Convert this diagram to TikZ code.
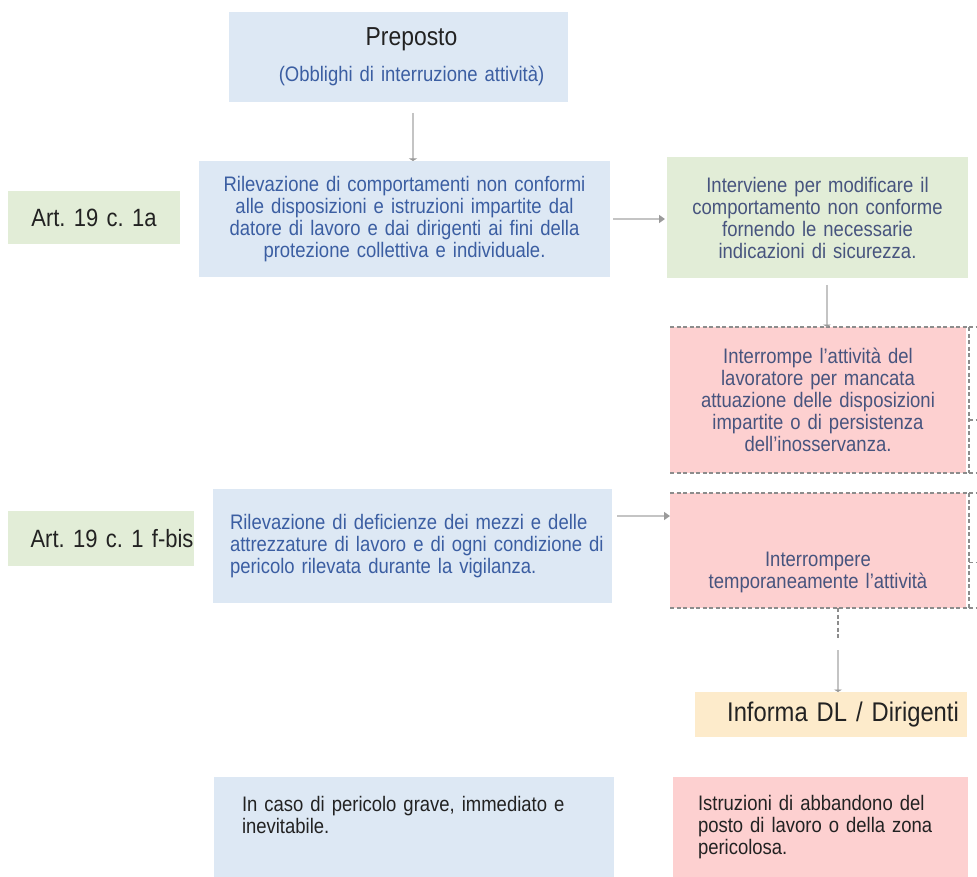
\documentclass[tikz,border=0pt]{standalone}
\usepackage{fontspec}
\setmainfont[FakeStretch=0.88]{Liberation Sans}
\usetikzlibrary{arrows.meta}
\definecolor{bluefill}{HTML}{DDE8F4}
\definecolor{greenfill}{HTML}{E2EDD7}
\definecolor{redfill}{HTML}{FDD0D0}
\definecolor{yellowfill}{HTML}{FDEBCB}
\definecolor{bluetext}{HTML}{3B5EA2}
\definecolor{slatetext}{HTML}{47547E}
\definecolor{darktext}{HTML}{222222}
\definecolor{connc}{HTML}{C4C4C4}
\definecolor{tipc}{HTML}{9A9A9A}
\definecolor{dashc}{HTML}{8C8C8C}
\newcommand\mainsz{\fontsize{21}{22}\selectfont}
\begin{document}
\frenchspacing
\begin{tikzpicture}[x=1pt,y=-1pt,
  every node/.style={inner sep=0pt, outer sep=0pt},
  boxbase/.style={anchor=north west, font=\mainsz, align=center},
  bluebox/.style={boxbase, fill=bluefill, text=bluetext},
  greenbox/.style={boxbase, fill=greenfill, text=slatetext},
  redbox/.style={boxbase, fill=redfill, text=slatetext},
  yellowbox/.style={boxbase, fill=yellowfill, text=darktext},
  artbox/.style={boxbase, fill=greenfill, text=darktext, font=\fontsize{25}{26}\selectfont},
  conn/.style={draw=connc, line width=1.8pt, -{Triangle[width=8pt,length=6pt,color=tipc]}},
  connv/.style={draw=connc, line width=1.8pt, -{Triangle[width=8pt,length=2.5pt,color=tipc]}},
  dashline/.style={draw=dashc, line width=1.2pt, dash pattern=on 4pt off 2.5pt},
]
\useasboundingbox (0,0) rectangle (977,877);

% boxes
\node[bluebox, minimum width=339, minimum height=90, text width=339] (top) at (229,12)
  {\hspace*{26pt}{\fontsize{26}{27}\selectfont\color{darktext}Preposto}\\[14pt]\hspace*{26pt}(Obblighi di interruzione attività)};

\node[bluebox, minimum width=411, minimum height=116, text width=411] (rc) at (199,161)
  {Rilevazione di comportamenti non conformi\\alle disposizioni e istruzioni impartite dal\\datore di lavoro e dai dirigenti ai fini della\\protezione collettiva e individuale.};

\node[greenbox, minimum width=301, minimum height=121, text width=301] (ic) at (667,157)
  {Interviene per modificare il\\comportamento non conforme\\fornendo le necessarie\\indicazioni di sicurezza.};

\node[redbox, minimum width=296, minimum height=146, text width=296] (ia) at (670,327)
  {Interrompe l'attività del\\lavoratore per mancata\\attuazione delle disposizioni\\impartite o di persistenza\\dell'inosservanza.};

\node[bluebox, minimum width=399, minimum height=114, text width=399, align=left] (rd) at (213,489)
  {\leftskip=17pt\rightskip=-40pt plus 1fil Rilevazione di deficienze dei mezzi e delle\\attrezzature di lavoro e di ogni condizione di\\pericolo rilevata durante la vigilanza.\par};

\node[redbox, minimum width=296, minimum height=115, text width=296] (it) at (670,493)
  {\mbox{}\\[37pt]Interrompere\\temporaneamente l'attività};

\node[yellowbox, minimum width=272, minimum height=45, text width=272, font=\fontsize{27}{28}\selectfont] (inf) at (695,692)
  {\hspace*{24pt}Informa DL / Dirigenti};

\node[artbox, minimum width=172, minimum height=53, text width=172] (arta) at (8,191)
  {Art. 19 c. 1a};

\node[artbox, minimum width=186, minimum height=55, text width=185, align=right] (artf) at (8,511)
  {Art. 19 c. 1 f-bis};

\node[bluebox, text=darktext, minimum width=400, minimum height=100, text width=400, align=left] (pg) at (214,777)
  {\leftskip=28pt\rightskip=-40pt plus 1fil In caso di pericolo grave, immediato e\\inevitabile.\par\vspace*{24pt}};

\node[redbox, text=darktext, minimum width=295, minimum height=100, text width=295, align=left] (ab) at (673,777)
  {\leftskip=25pt\rightskip=-40pt plus 1fil Istruzioni di abbandono del\\posto di lavoro o della zona\\pericolosa.\par};

% dashed group outlines
\draw[dashline] (ia.north west) -- (ia.north west -| 977,0);
\draw[dashline] (ia.south west) -- (ia.south west -| 977,0);
\draw[dashline] ([xshift=3pt]ia.north east) -- ([xshift=3pt]ia.south east);
\draw[dashline] ([xshift=3pt,yshift=-20pt]ia.east) -- ++(8,0);
\draw[dashline] (it.north west) -- (it.north west -| 977,0);
\draw[dashline] (it.south west) -- (it.south west -| 977,0);
\draw[dashline] ([xshift=3pt]it.north east) -- ([xshift=3pt]it.south east);
\draw[dashline] ([xshift=3pt,yshift=-12pt]it.east) -- ++(8,0);

% connectors
\coordinate (tx) at ([xshift=14.5pt]top.south);
\draw[connv, shorten <=11pt] (tx) -- (tx |- rc.north);

\draw[conn, shorten <=3pt, shorten >=2pt] (rc.east) -- (rc.east -| ic.west);

\coordinate (icx) at ([xshift=9.5pt]ic.south);
\draw[connv, shorten <=7pt] (icx) -- (icx |- ia.north);

\coordinate (rx) at ([yshift=30pt]rd.east);
\draw[conn, shorten <=5pt] (rx) -- (rx -| it.west);

\coordinate (itx) at ([xshift=20pt]it.south);
\coordinate (d1) at (838,638);
\coordinate (d2) at (838,650);
\draw[dashline] (itx) -- (d1);
\draw[connv] (d2) -- (d2 |- inf.north);
\end{tikzpicture}
\end{document}
